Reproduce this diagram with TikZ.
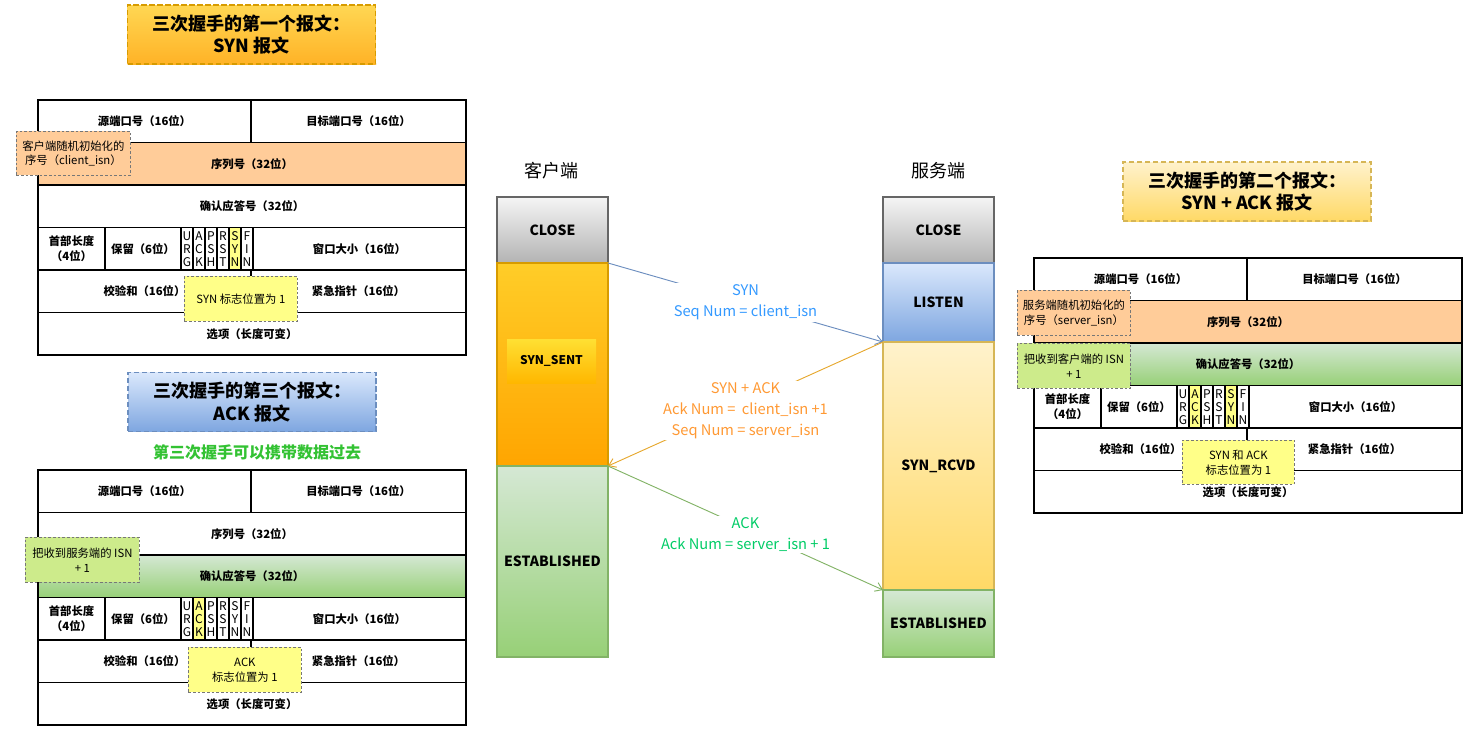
\documentclass[tikz,border=0pt]{standalone}
\usepackage{fontspec}
\setmainfont{Noto Sans CJK SC}
\usetikzlibrary{positioning,arrows.meta}

\definecolor{seqorange}{HTML}{FFCC99}
\definecolor{flagyel}{HTML}{FFFF88}
\definecolor{notegreen}{HTML}{CDEB8B}
\definecolor{notegray}{HTML}{777777}
\definecolor{ackgtop}{HTML}{D5E8D4}
\definecolor{ackgbot}{HTML}{97D077}
\definecolor{closetop}{HTML}{F5F5F5}
\definecolor{closebot}{HTML}{B3B3B3}
\definecolor{closeline}{HTML}{666666}
\definecolor{senttop}{HTML}{FFCD28}
\definecolor{sentbot}{HTML}{FFA500}
\definecolor{sentline}{HTML}{D79B00}
\definecolor{estline}{HTML}{82B366}
\definecolor{listentop}{HTML}{DAE8FC}
\definecolor{listenbot}{HTML}{7EA6E0}
\definecolor{listenline}{HTML}{6C8EBF}
\definecolor{rcvdtop}{HTML}{FFF2CC}
\definecolor{rcvdbot}{HTML}{FFD966}
\definecolor{rcvdline}{HTML}{D6B656}
\definecolor{synblue}{HTML}{3399FF}
\definecolor{synackorange}{HTML}{FF9933}
\definecolor{synackline}{HTML}{E6A82E}
\definecolor{ackgreen}{HTML}{00CC66}
\definecolor{datagreen}{HTML}{33C233}

%% one tcp header: prefix, x, y, styles, highlighted flags
\newcommand{\tcpseg}[5]{%
  \begin{scope}[shift={(#2,#3)},#4]
    \foreach \i in {#5}
      \fill[flagyel] (143+\i*12,127.5) rectangle ++(12,42.5);
    \node[cell, wd=213] (#1src) at (0,0) {源端口号（16位）};
    \node[cell, wd=215] (#1dst) at (213,0) {目标端口号（16位）};
    \node[cell, wd=428, seqrow] (#1seqno) at (0,42.5) {序列号（32位）};
    \node[cell, wd=428, ackrow] (#1ackno) at (0,85) {确认应答号（32位）};
    \node[cell, wd=67, align=center] (#1hlen) at (0,127.5) {首部长度\\（4位）};
    \node[cell, wd=76] (#1rsv) at (67,127.5) {保留（6位）};
    \foreach \f/\t [count=\i from 0] in {urg/U\\R\\G, ack/A\\C\\K, psh/P\\S\\H,
      rst/R\\S\\T, syn/S\\Y\\N, fin/F\\I\\N}
    {
      \node[cell, flagcell] (#1f\f) at (143+\i*12,127.5) {\t};
    }
    \node[cell, wd=213] (#1win) at (215,127.5) {窗口大小（16位）};
    \node[cell, wd=213] (#1chk) at (0,170) {校验和（16位）};
    \node[cell, wd=215] (#1urgp) at (213,170) {紧急指针（16位）};
    \node[cell, wd=428] (#1opt) at (0,212.5) {选项（长度可变）};
  \end{scope}}

\begin{document}
\begin{tikzpicture}
[x=0.75pt,y=-0.75pt,
  wd/.style={minimum width=#1*0.75pt},
  ht/.style={minimum height=#1*0.75pt},
  cell/.style={draw,line width=0.9pt,anchor=north west,inner sep=0pt,outer sep=0pt,
    ht=42.5,font=\bfseries\fontsize{8.5}{11}\selectfont},
  flagcell/.style={wd=12,align=center,font=\fontsize{9}{9.8}\selectfont},
  seqrow/.style={},
  ackrow/.style={},
  seqorange row/.style={seqrow/.style={fill=seqorange}},
  ackgreen row/.style={ackrow/.style={top color=ackgtop,bottom color=ackgbot}},
  title/.style={line width=0.9pt,dash pattern=on 4pt off 2pt,align=center,inner sep=0pt,
    wd=248,ht=59,font=\bfseries\fontsize{13.5}{17}\selectfont},
  note/.style={draw=notegray,line width=0.6pt,dash pattern=on 2pt off 1.5pt,anchor=north west,
    align=center,inner sep=0pt,wd=113,ht=45,font=\fontsize{8.5}{11}\selectfont},
  state/.style={draw,line width=0.9pt,inner sep=0pt,outer sep=0pt,wd=111,
    font=\bfseries\fontsize{10.5}{13}\selectfont},
  side/.style={font=\fontsize{13.5}{16}\selectfont},
  msg/.style={line width=0.7pt,-{Straight Barb[length=5pt,width=7pt]}},
  msglbl/.style={fill=white,align=center,inner sep=1pt,font=\fontsize{11}{16}\selectfont}]
\useasboundingbox (0,0) rectangle (1476,739);

%% titles
\node[title, draw=sentline, top color=senttop!80!white, bottom color=sentbot!85!white]
  (title1) at (251.5,34.5) {三次握手的第一个报文：\\SYN 报文};
\node[title, draw=rcvdline, top color=rcvdtop, bottom color=rcvdbot]
  (title2) at (1247,191.5) {三次握手的第二个报文：\\SYN + ACK 报文};
\node[title, draw=listenline, top color=listentop, bottom color=listenbot]
  (title3) at (252,402) {三次握手的第三个报文：\\ACK 报文};
\node[text=datagreen, font=\bfseries\fontsize{12}{14}\selectfont] (datanote) at (257,452)
  {第三次握手可以携带数据过去};

%% tcp headers
\tcpseg{a}{38}{100}{seqorange row}{4}
\tcpseg{b}{1034}{258}{seqorange row, ackgreen row}{1,4}
\tcpseg{c}{38}{470}{ackgreen row}{1}

%% notes
\node[note, wd=114, ht=44, fill=seqorange] (anote1) at (16,131) {客户端随机初始化的\\序号（client\_isn）};
\node[note, fill=flagyel] (anote2) at (184,276) {SYN 标志位置为 1};
\node[note, fill=seqorange] (bnote1) at (1017,290) {服务端随机初始化的\\序号（server\_isn）};
\node[note, fill=notegreen] (bnote2) at (1017,343) {把收到客户端的 ISN\\+ 1};
\node[note, wd=112, ht=44, fill=flagyel] (bnote3) at (1182,440) {SYN 和 ACK\\标志位置为 1};
\node[note, wd=114, fill=notegreen] (cnote1) at (25,537) {把收到服务端的 ISN\\+ 1};
\node[note, fill=flagyel] (cnote2) at (188,647) {ACK\\标志位置为 1};

%% client and server states
\node[side] (client) at (551,171) {客户端};
\node[side] (server) at (938,171) {服务端};

\node[state, ht=66, draw=closeline, top color=closetop, bottom color=closebot]
  (cclose) at (552.5,230) {CLOSE};
\node[state, ht=203, draw=sentline, top color=senttop, bottom color=sentbot, below=0pt of cclose]
  (csent) {};
\node[inner sep=0pt, wd=89, ht=44, top color=senttop!70!yellow!90!white, bottom color=sentbot!80!yellow,
  font=\bfseries\fontsize{9}{11}\selectfont] (csentlbl) at (551.5,361) {SYN\_SENT};
\node[state, ht=191, draw=estline, top color=ackgtop, bottom color=ackgbot, below=0pt of csent]
  (cest) {ESTABLISHED};

\node[state, ht=66, draw=closeline, top color=closetop, bottom color=closebot]
  (sclose) at (938.5,230) {CLOSE};
\node[state, ht=79, draw=listenline, top color=listentop, bottom color=listenbot, below=0pt of sclose]
  (slisten) {LISTEN};
\node[state, ht=248, draw=rcvdline, top color=rcvdtop, bottom color=rcvdbot, below=0pt of slisten]
  (srcvd) {SYN\_RCVD};
\node[state, ht=67, draw=estline, top color=ackgtop, bottom color=ackgbot, below=0pt of srcvd]
  (sest) {ESTABLISHED};

%% handshake messages
\draw[msg, listenline] (cclose.south east) -- node[msglbl, text=synblue] (synlbl)
  {SYN\\Seq Num = client\_isn} (slisten.south west);
\draw[msg, synackline] (slisten.south west) -- node[msglbl, text=synackorange, yshift=-5pt] (synacklbl)
  {SYN + ACK\\Ack Num = \ client\_isn +1\\Seq Num = server\_isn} (csent.south east);
\draw[msg, estline] (cest.north east) -- node[msglbl, text=ackgreen, yshift=-5pt] (acklbl)
  {ACK\\Ack Num = server\_isn + 1} (sest.north west);
\end{tikzpicture}
\end{document}
